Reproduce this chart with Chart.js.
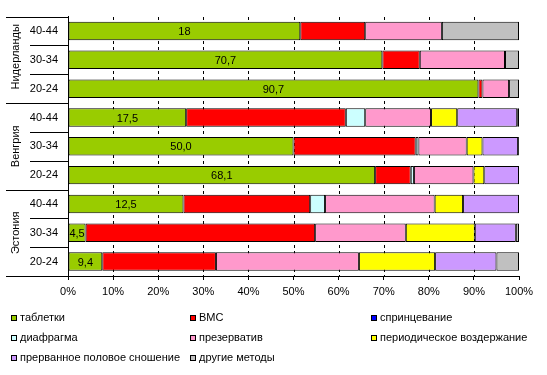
<!DOCTYPE html>
<html>
<head>
<meta charset="utf-8">
<script src="https://cdn.jsdelivr.net/npm/chart.js@4/dist/chart.umd.min.js"></script>
<style>
  html, body { margin: 0; padding: 0; background: #fff; }
  #wrap { position: relative; width: 547px; height: 375px; }
  #legend { position: absolute; left: 0; top: 0; width: 547px; height: 375px; pointer-events: none;
            font-family: "Liberation Sans", Arial, sans-serif; font-size: 11px; color: #000; }
  .li { position: absolute; white-space: nowrap; line-height: 13px; }
  .box { position: absolute; width: 4px; height: 4px; border: 1px solid #000; }
</style>
</head>
<body>
<div id="wrap">
  <canvas id="c" width="547" height="375"></canvas>
  <div id="legend"></div>
</div>
<script>
// ---- data ----
const countries = ['Нидерланды', 'Венгрия', 'Эстония'];
const ageGroups = ['40-44', '30-34', '20-24', '40-44', '30-34', '20-24', '40-44', '30-34', '20-24'];
const seriesNames = ['таблетки', 'ВМС', 'спринцевание', 'диафрагма', 'презерватив',
                     'периодическое воздержание', 'прерванное половое сношение', 'другие методы'];
const pills      = [51.5, 69.7, 91.0, 26.2, 50.0, 68.1, 25.6,  3.9,  7.6];
const iud        = [14.4,  8.3,  0.9, 35.4, 27.1,  7.9, 28.1, 50.9, 25.2];
const douching   = [   0,    0,    0,    0,    0,    0,    0,    0,    0];
const diaphragm  = [   0,    0,    0,  4.3,  0.6,  0.7,  3.3,    0,    0];
const condom     = [17.0, 18.9,  5.9, 14.6, 10.7, 13.2, 24.3, 20.1, 31.7];
const periodic   = [   0,    0,    0,  5.8,  3.5,  2.4,  6.3, 15.3, 16.9];
const withdrawal = [   0,    0,    0, 13.3,  7.9,  7.7, 12.4,  9.1, 13.6];
const other      = [17.1,  3.1,  2.2,  0.4,  0.2,    0,    0,  0.7,  5.0];
const pillLabels = ['18', '70,7', '90,7', '17,5', '50,0', '68,1', '12,5', '4,5', '9,4'];
const xTicks = [0, 10, 20, 30, 40, 50, 60, 70, 80, 90, 100];

const seriesValues = [pills, iud, douching, diaphragm, condom, periodic, withdrawal, other];
const colors = ['#99CC00', '#FF0000', '#0000FF', '#CCFFFF', '#FF99CC', '#FFFF00', '#CC99FF', '#C0C0C0'];
const FONT = '"Liberation Sans", Arial, sans-serif';

const datasets = seriesNames.map((name, i) => ({
  label: name,
  data: seriesValues[i].map(v => v === 0 ? null : v),
  backgroundColor: colors[i],
  borderColor: '#000',
  borderWidth: 1,
  borderSkipped: false,
  barPercentage: 0.64,
  categoryPercentage: 1.0
}));

const sidePlugin = {
  id: 'side',
  // dashed vertical gridlines behind the bars
  beforeDatasetsDraw(chart) {
    const ctx = chart.ctx, x = chart.scales.x, a = chart.chartArea;
    ctx.save();
    ctx.fillStyle = '#000';
    xTicks.forEach(v => {
      if (v === 0 || v === 100) return;
      const px = Math.round(x.getPixelForValue(v));
      for (let yy = Math.round(a.top); yy < a.bottom; yy += 6) {
        ctx.fillRect(px, yy, 1, Math.min(3, a.bottom - yy));
      }
    });
    ctx.restore();
  },
  afterDatasetsDraw(chart) {
    const ctx = chart.ctx;
    const meta = chart.getDatasetMeta(0);
    ctx.save();
    ctx.fillStyle = '#000';
    ctx.font = '11px ' + FONT;
    ctx.textAlign = 'center';
    ctx.textBaseline = 'middle';
    meta.data.forEach((el, i) => {
      const p = el.getProps(['x', 'y', 'base'], true);
      ctx.fillText(pillLabels[i], (p.x + p.base) / 2, p.y + 1);
    });
    ctx.restore();
  },
  afterDraw(chart) {
    const ctx = chart.ctx;
    const y = chart.scales.y;
    const left = chart.chartArea.left;
    ctx.save();
    ctx.strokeStyle = '#000';
    ctx.lineWidth = 1;
    const n = ageGroups.length;
    for (let k = 0; k <= n; k++) {
      const py = Math.round(y.getPixelForValue(k - 0.5)) + 0.5;
      const x0 = (k % 3 === 0) ? 6 : 30;
      ctx.beginPath();
      ctx.moveTo(x0, py);
      ctx.lineTo(left, py);
      ctx.stroke();
    }
    ctx.fillStyle = '#000';
    ctx.font = '11px ' + FONT;
    ctx.textAlign = 'center';
    ctx.textBaseline = 'middle';
    countries.forEach((c, i) => {
      const cy = y.getPixelForValue(i * 3 + 1) - (i === 0 ? 3 : 0);
      ctx.save();
      ctx.translate(16, cy);
      ctx.rotate(-Math.PI / 2);
      ctx.fillText(c, 0, 0);
      ctx.restore();
    });
    ctx.restore();
  }
};

new Chart(document.getElementById('c'), {
  type: 'bar',
  data: { labels: ageGroups, datasets },
  options: {
    indexAxis: 'y',
    responsive: false,
    animation: false,
    devicePixelRatio: 1,
    layout: { padding: { top: 5, right: 28, left: 0, bottom: 0 } },
    plugins: { legend: { display: false }, tooltip: { enabled: false } },
    scales: {
      x: {
        stacked: true,
        min: 0, max: 100,
        afterBuildTicks: s => { s.ticks = xTicks.map(v => ({ value: v })); },
        afterFit: s => { s.height = 99; },
        ticks: { callback: v => v + '%', color: '#000', font: { size: 11, family: FONT }, padding: 5, maxRotation: 0 },
        grid: { display: true, drawOnChartArea: false, drawTicks: true, tickColor: '#000', tickLength: 4, lineWidth: 1, color: '#000' },
        border: { display: true, color: '#000', width: 1 }
      },
      y: {
        stacked: true,
        afterFit: s => { s.width = 68; },
        ticks: { color: '#000', font: { size: 11, family: FONT }, padding: 10 },
        grid: { display: true, drawOnChartArea: false, drawTicks: false },
        border: { display: true, color: '#000', width: 1 }
      }
    }
  },
  plugins: [sidePlugin]
});

// ---- legend (HTML) ----
const legend = document.getElementById('legend');
const colX = [11, 190, 371];
const rowY = [318, 338, 358];
seriesNames.forEach((name, i) => {
  const col = i % 3, row = Math.floor(i / 3);
  const box = document.createElement('div');
  box.className = 'box';
  box.style.left = colX[col] + 'px';
  box.style.top = (rowY[row] - 3) + 'px';
  box.style.background = colors[i];
  legend.appendChild(box);
  const t = document.createElement('div');
  t.className = 'li';
  t.style.left = (colX[col] + 9) + 'px';
  t.style.top = (rowY[row] - 7) + 'px';
  t.textContent = name;
  legend.appendChild(t);
});
</script>
</body>
</html>
